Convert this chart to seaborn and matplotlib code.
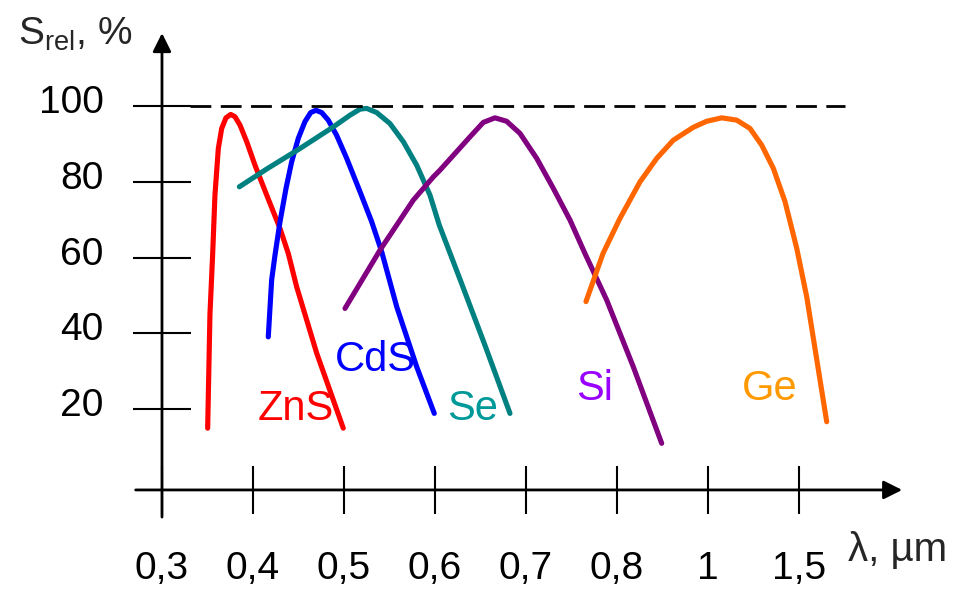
import numpy as np
import matplotlib
matplotlib.use("Agg")
import matplotlib.pyplot as plt
import matplotlib.transforms as mtransforms
import seaborn as sns

sns.set_theme(style="white")
plt.rcParams['font.family'] = ['Liberation Sans', 'DejaVu Sans']

# --- data (wavelength in um, relative sensitivity in %) ---
tick_lam = [0.3, 0.4, 0.5, 0.6, 0.7, 0.8, 1.0, 1.5]
tick_labels = ["0,3", "0,4", "0,5", "0,6", "0,7", "0,8", "1", "1,5"]
y_ticks = [20, 40, 60, 80, 100]

zns_x = [0.3502, 0.3527, 0.3557, 0.3582, 0.3619, 0.3656, 0.3703, 0.3755, 0.3802, 0.3857,
         0.3931, 0.4022, 0.4151, 0.4297, 0.4388, 0.448, 0.470, 0.4992]
zns_y = [15.0, 45.0, 61.0, 76.5, 88.8, 94.1, 96.9, 97.8, 97.2, 95.0,
         90.6, 84.4, 76.5, 67.7, 61.1, 52.3, 34.8, 15.0]

cds_x = [0.4168, 0.4205, 0.4242, 0.4297, 0.4363, 0.4425, 0.4498, 0.4571, 0.4634, 0.4692,
         0.4755, 0.4827, 0.4919, 0.503, 0.5176, 0.5304, 0.5414, 0.558, 0.5799, 0.5992]
cds_y = [39.1, 54.1, 60.7, 69.5, 78.3, 85.3, 91.5, 95.9, 98.3, 98.9,
         98.3, 96.3, 92.3, 86.2, 77.4, 69.5, 61.6, 47.0, 31.2, 18.9]

se_x = [0.385, 0.4151, 0.4516, 0.4882, 0.5066, 0.5176, 0.5249, 0.5359, 0.5505, 0.5652,
        0.5799, 0.5945, 0.6047, 0.6278, 0.6555, 0.6824]
se_y = [78.7, 83.4, 88.8, 94.5, 97.6, 99.2, 99.4, 98.3, 95.4, 90.6,
        84.4, 76.5, 68.6, 54.1, 36.5, 18.9]

si_x = [0.5011, 0.5396, 0.5762, 0.5981, 0.6055, 0.622, 0.6385, 0.6531, 0.6659, 0.6787,
        0.6934, 0.7118, 0.730, 0.7484, 0.7648, 0.7887, 0.8358, 0.8982]
si_y = [46.6, 62.0, 75.2, 81.3, 83.1, 87.5, 91.9, 95.7, 96.9, 96.0,
        92.8, 86.2, 78.3, 69.9, 61.1, 48.8, 31.2, 11.0]

ge_x = [0.7659, 0.7846, 0.8066, 0.8505, 0.8873, 0.9237, 0.9677, 0.9971, 1.0753, 1.1577,
        1.2308, 1.2951, 1.3588, 1.4231, 1.4874, 1.5423, 1.6522]
ge_y = [48.4, 61.1, 70.4, 80.0, 86.2, 91.0, 94.4, 96.0, 96.9, 96.3,
        94.1, 89.7, 83.6, 74.8, 62.5, 49.7, 16.7]

curves = [
    ("ZnS", zns_x, zns_y, "#ff0000", "#ff0000", (0.447, 20.0)),
    ("CdS", cds_x, cds_y, "#0000ff", "#0000ff", (0.534, 33.0)),
    ("Se", se_x, se_y, "#008080", "#009999", (0.641, 20.0)),
    ("Si", si_x, si_y, "#800080", "#9900ff", (0.775, 25.3)),
    ("Ge", ge_x, ge_y, "#ff6600", "#ff9900", (1.341, 25.3)),
]

# non-uniform wavelength axis: the ticks are evenly spaced
pos_lam = [0.0] + tick_lam + [3.0]
pos_idx = [-3, 0, 1, 2, 3, 4, 5, 6, 7, 10]


def fwd(x):
    return np.interp(x, pos_lam, pos_idx)


def inv(p):
    return np.interp(p, pos_idx, pos_lam)


fig = plt.figure(figsize=(9.71, 5.91), dpi=100)
ax = fig.add_axes([0, 0, 1, 1])
ax.set_xscale('function', functions=(fwd, inv))
ax.set_xlim(0.122, 2.445)
ax.set_ylim(-27.97, 128.0)

for name, xs, ys, lc, tc, (tx, ty) in curves:
    sns.lineplot(x=xs, y=ys, color=lc, lw=3.7, sort=False, estimator=None, ax=ax)
    ax.text(tx, ty, name, color=tc, fontsize=30, ha='center', va='center')

# 100 % reference line
ax.hlines(100, 0.331, 1.75, colors='black', lw=2, linestyles=(0, (7.5, 3.4)))

# axes with arrows
x_axis_y = -1.3
ax.annotate('', xy=(2.082, x_axis_y), xytext=(0.268, x_axis_y),
            arrowprops=dict(arrowstyle='-|>', color='black', lw=2, mutation_scale=28))
ax.annotate('', xy=(0.3, 120), xytext=(0.3, -9.2),
            arrowprops=dict(arrowstyle='-|>', color='black', lw=2, mutation_scale=28))

for s in ax.spines.values():
    s.set_visible(False)
ax.spines['bottom'].set_position(('data', x_axis_y))
ax.spines['left'].set_position(('data', 0.3))

ax.set_xticks(tick_lam)
ax.set_xticklabels(tick_labels)
ax.set_yticks(y_ticks)
ax.set_yticklabels([str(v) for v in y_ticks])
ax.minorticks_off()
ax.tick_params(axis='x', direction='inout', length=34, width=1.5, color='black',
               pad=27, labelsize=28, labelcolor='black', bottom=True)
ax.tick_params(axis='y', direction='inout', length=42, width=1.5, color='black',
               pad=21, labelsize=28, labelcolor='black', left=True)
ax.grid(False)

# y tick labels sit a little above their ticks in the original
lift = mtransforms.ScaledTranslation(0, 7 / 100, fig.dpi_scale_trans)
for lab in ax.get_yticklabels():
    lab.set_transform(lab.get_transform() + lift)

fig.text(18 / 971, 1 - 45 / 591, r"S$_\mathregular{rel}$, %", fontsize=28, va='baseline')
fig.text(848 / 971, 1 - 561 / 591, "λ, µm", fontsize=29, va='baseline')

fig.savefig("out.png", dpi=100)
